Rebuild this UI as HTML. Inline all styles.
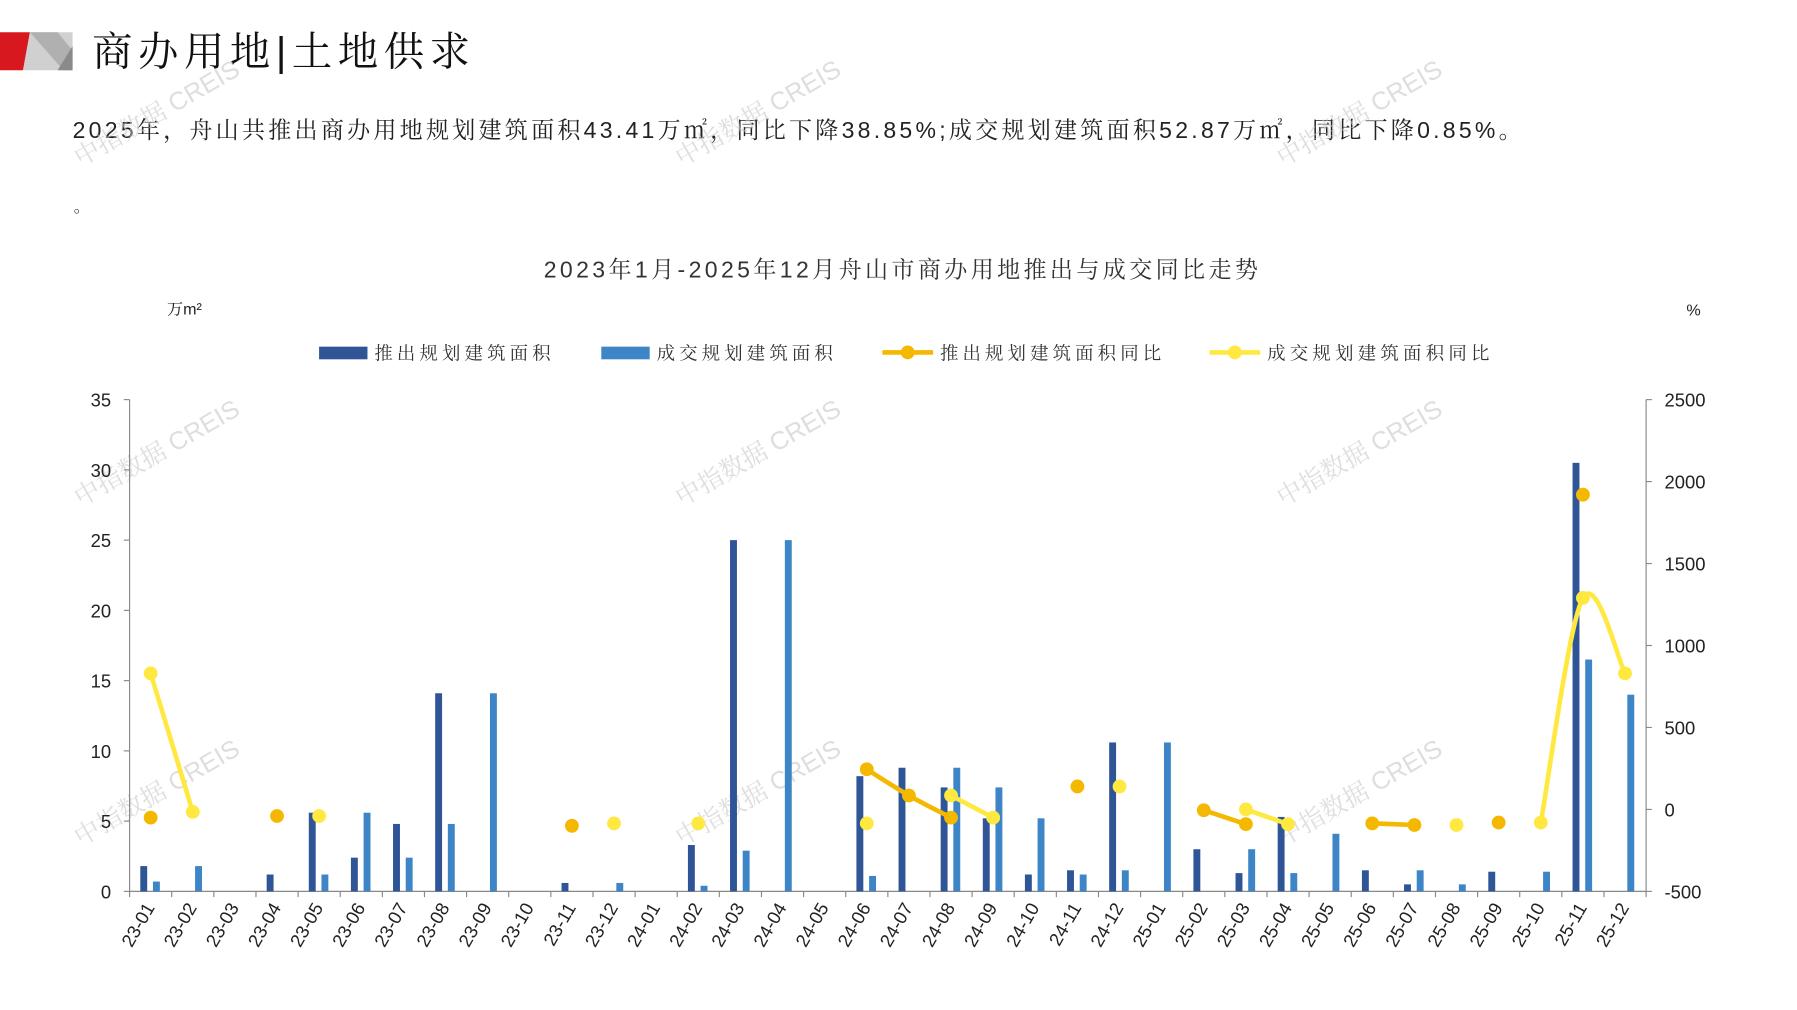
<!DOCTYPE html>
<html><head><meta charset="utf-8">
<style>
html,body{margin:0;padding:0;background:#fff;}
svg{display:block;}
text{font-family:"Liberation Sans","Noto Serif CJK SC","Noto Sans CJK SC",sans-serif;}
</style></head>
<body>
<svg id="s" width="1797" height="1010" viewBox="0 0 1560 877" preserveAspectRatio="none" xmlns="http://www.w3.org/2000/svg">
<polygon points="0,28 26,28 20,61 0,61" fill="#d7191f"/>
<polygon points="26,28 63,28 63,61 20,61" fill="#d0d0d0"/>
<polygon points="26,28 50,28 63,44 63,61 55,61" fill="#b0b0b0"/>
<polygon points="63,40 63,61 50,61" fill="#8a8a8a"/>
<text x="80" y="57" font-size="35" fill="#111" textLength="328" lengthAdjust="spacing" font-family="Noto Serif CJK SC,serif">商办用地|土地供求</text>
<text x="63" y="120" font-size="20" fill="#222" textLength="1258" lengthAdjust="spacing">2025年，舟山共推出商办用地规划建筑面积43.41万㎡，同比下降38.85%;成交规划建筑面积52.87万㎡，同比下降0.85%。</text>
<text x="64" y="184" font-size="14" fill="#222">。</text>
<text x="472" y="241" font-size="20" fill="#333" textLength="620" lengthAdjust="spacing">2023年1月-2025年12月舟山市商办用地推出与成交同比走势</text>
<text x="145" y="273" font-size="14" fill="#222">万m²</text>
<text x="1464" y="274" font-size="14" fill="#222">%</text>
<rect x="277" y="301" width="42" height="11" fill="#2F5597"/>
<text x="325" y="312" font-size="16" fill="#333" textLength="153" lengthAdjust="spacing">推出规划建筑面积</text>
<rect x="522" y="301" width="42" height="11" fill="#3D85C6"/>
<text x="570" y="312" font-size="16" fill="#333" textLength="153" lengthAdjust="spacing">成交规划建筑面积</text>
<line x1="766" y1="306" x2="810" y2="306" stroke="#F5B800" stroke-width="4"/>
<circle cx="788" cy="306" r="6" fill="#F5B800"/>
<text x="816" y="312" font-size="16" fill="#333" textLength="192" lengthAdjust="spacing">推出规划建筑面积同比</text>
<line x1="1050" y1="306" x2="1094" y2="306" stroke="#FFE83F" stroke-width="4"/>
<circle cx="1072" cy="306" r="6" fill="#FFE83F"/>
<text x="1100" y="312" font-size="16" fill="#333" textLength="193" lengthAdjust="spacing">成交规划建筑面积同比</text>
<g id="g"></g>
</svg>
<script>
const NS="http://www.w3.org/2000/svg",g=document.getElementById('g');
function el(t,a,txt){const e=document.createElementNS(NS,t);for(const k in a)e.setAttribute(k,a[k]);if(txt!=null)e.textContent=txt;g.appendChild(e);return e;}
const L=112.5,R=1429,T=347,B=774,n=36,w=(R-L)/n;
const yl=v=>B-(v/35)*(B-T), yr=v=>B-((v+500)/3000)*(B-T), cx=i=>L+w*(i+0.5);
[[70,145],[592,145],[1114,145],[70,440],[592,440],[1114,440],[70,735],[592,735],[1114,735]].forEach(p=>{
 el('text',{x:p[0],y:p[1],'font-size':22,fill:'#c8c8c8','fill-opacity':0.6,transform:`rotate(-30 ${p[0]} ${p[1]})`},'中指数据 CREIS');});
el('line',{x1:L,y1:T,x2:L,y2:B,stroke:'#888'});
el('line',{x1:R,y1:T,x2:R,y2:B,stroke:'#888'});
el('line',{x1:L,y1:B,x2:R,y2:B,stroke:'#888'});
for(let v=0;v<=35;v+=5){const y=yl(v);el('line',{x1:L-5,y1:y,x2:L,y2:y,stroke:'#888'});el('text',{x:L-16,y:y+6,'font-size':16,'text-anchor':'end',fill:'#222'},v);}
for(let v=-500;v<=2500;v+=500){const y=yr(v);el('line',{x1:R,y1:y,x2:R+5,y2:y,stroke:'#888'});el('text',{x:R+16,y:y+6,'font-size':16,fill:'#222'},v);}
const labs=[];for(const yy of [23,24,25])for(let m=1;m<=12;m++)labs.push(yy+'-'+(m<10?'0':'')+m);
for(let i=0;i<=n;i++){const x=L+w*i;el('line',{x1:x,y1:B,x2:x,y2:B+5,stroke:'#888'});}
labs.forEach((s,i)=>{const x=cx(i)+4,y=B+14;el('text',{x:x,y:y,'font-size':16,'text-anchor':'end',fill:'#222',transform:`rotate(-60 ${x} ${y})`},s);});
const d=[1.8,0,0,1.2,5.6,2.4,4.8,14.1,0,0,0.6,0,0,3.3,25,0,0,8.2,8.8,7.4,5.2,1.2,1.5,10.6,0,3.0,1.3,5.3,0,1.5,0.5,0,1.4,0,30.5,0];
const l=[0.7,1.8,0,0,1.2,5.6,2.4,4.8,14.1,0,0,0.6,0,0.4,2.9,25,0,1.1,0,8.8,7.4,5.2,1.2,1.5,10.6,0,3.0,1.3,4.1,0,1.5,0.5,0,1.4,16.5,14.0];
d.forEach((v,i)=>{if(v>0)el('rect',{x:cx(i)-9,y:yl(v),width:6,height:B-yl(v),fill:'#2F5597'});});
l.forEach((v,i)=>{if(v>0)el('rect',{x:cx(i)+2,y:yl(v),width:6,height:B-yl(v),fill:'#3D85C6'});});
function series(pts,color){
 pts.forEach(seg=>{
  const P=seg.map(p=>[cx(p[0]),yr(p[1])]);
  if(P.length>1){let s=`M${P[0][0]},${P[0][1]}`;
   for(let k=0;k<P.length-1;k++){const p0=P[k-1]||P[k],p1=P[k],p2=P[k+1],p3=P[k+2]||P[k+1];
    const c1=[p1[0]+(p2[0]-p0[0])/6,p1[1]+(p2[1]-p0[1])/6],c2=[p2[0]-(p3[0]-p1[0])/6,p2[1]-(p3[1]-p1[1])/6];
    s+=` C${c1[0]},${c1[1]} ${c2[0]},${c2[1]} ${p2[0]},${p2[1]}`;}
   el('path',{d:s,fill:'none',stroke:color,'stroke-width':4});}
  P.forEach(p=>el('circle',{cx:p[0],cy:p[1],r:6,fill:color}));
 });
}
series([[[0,-50]],[[3,-40]],[[10,-100]],[[17,245],[18,85],[19,-50]],[[22,140]],[[25,-5],[26,-90]],[[29,-85],[30,-95]],[[32,-80]],[[34,1920]]],'#F5B800');
series([[[0,830],[1,-15]],[[4,-40]],[[11,-85]],[[13,-85]],[[17,-85]],[[19,85],[20,-50]],[[23,140]],[[26,0],[27,-90]],[[31,-95]],[[33,-80],[34,1290],[35,830]]],'#FFE83F');
</script>
</body></html>
